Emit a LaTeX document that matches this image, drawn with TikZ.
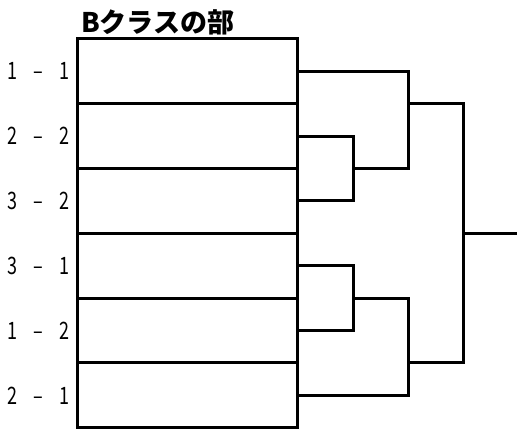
\documentclass[tikz,border=0pt]{standalone}
\usepackage{fontspec}
\newfontfamily\jpfont{Noto Sans CJK JP}
\newfontfamily\seedfont[FakeStretch=0.75]{Noto Sans CJK JP}
\newcommand{\seedcell}[1]{\makebox[13pt]{#1}}
\newcommand{\seedpair}[2]{\seedcell{#1}\seedcell{}\seedcell{–}\seedcell{}\seedcell{#2}}
\usetikzlibrary{positioning}
\begin{document}
\begin{tikzpicture}[x=1pt,y=-1pt,line width=3pt]
	\useasboundingbox (0,0) rectangle (517,430);
	\tikzset{entry/.style={draw, rectangle, minimum width=220pt, minimum height=64.8pt, inner sep=0pt, outer sep=0pt},
		seed/.style={inner sep=0pt, font=\seedfont\fontsize{24}{24}\selectfont}}

	\node [entry] (r1) at (187.5,71.4) {};
	\node [entry, below=0pt of r1] (r2) {};
	\node [entry, below=0pt of r2] (r3) {};
	\node [entry, below=0pt of r3] (r4) {};
	\node [entry, below=0pt of r4] (r5) {};
	\node [entry, below=0pt of r5] (r6) {};

	\node [anchor=base west, inner sep=0pt, font=\jpfont\bfseries\fontsize{27}{27}\selectfont] (title) at ([xshift=2pt,yshift=6pt] r1.north west) {Bクラスの部};

	\node [seed, left=5pt of r1] (s1) {\seedpair{1}{1}};
	\node [seed, left=5pt of r2] (s2) {\seedpair{2}{2}};
	\node [seed, left=5pt of r3] (s3) {\seedpair{3}{2}};
	\node [seed, left=5pt of r4] (s4) {\seedpair{3}{1}};
	\node [seed, left=5pt of r5] (s5) {\seedpair{1}{2}};
	\node [seed, left=5pt of r6] (s6) {\seedpair{2}{1}};

	% first round
	\draw (r2.east) -- ++(56,0) |- (r3.east);
	\draw (r4.east) -- ++(56,0) |- (r5.east);
	% semi final
	\draw ([xshift=56pt] r2.south east) -- ++(55,0) |- (r1.east);
	\draw ([xshift=56pt] r4.south east) -- ++(55,0) |- (r6.east);
	% final
	\draw ([xshift=111pt] r1.south east) -| ([xshift=166pt] r5.south east) -- ([xshift=111pt] r5.south east);
	\draw ([xshift=166pt] r3.south east) -- ++(56,0) coordinate (winner);
\end{tikzpicture}
\end{document}
